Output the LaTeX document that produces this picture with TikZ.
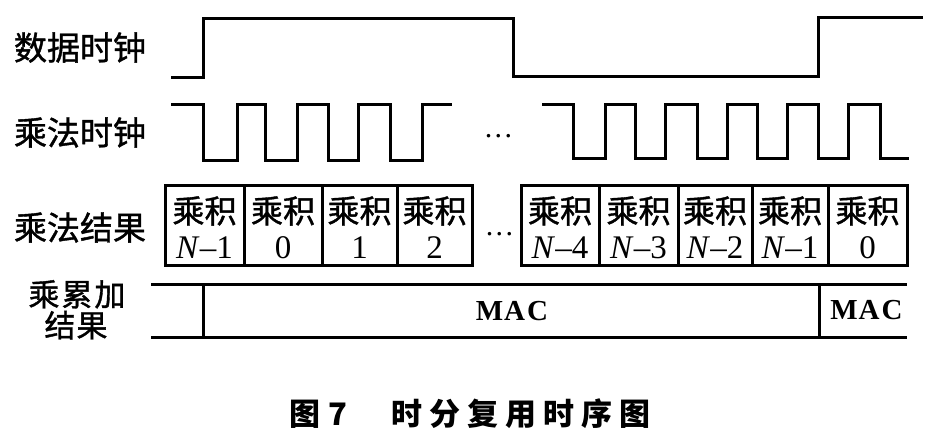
\documentclass[tikz,border=0pt]{standalone}
\usepackage{fontspec}
\setmainfont{Liberation Serif}
\newfontfamily\cjk[FakeBold=1.2]{Noto Sans CJK SC}
\newfontfamily\cjkcap{Noto Sans CJK SC}
\begin{document}
\begin{tikzpicture}[x=1pt,y=-1pt,
  sig/.style={line width=3pt, line join=miter, line cap=rect},
  lab/.style={font=\fontsize{33}{33}\selectfont\cjk, anchor=base, inner sep=0pt},
  cell/.style={draw, line width=3pt, minimum height=80pt, inner sep=0pt},
  ctop/.style={font=\fontsize{32}{32}\selectfont\cjk, anchor=base, inner sep=0pt},
  cbot/.style={font=\fontsize{33}{33}\selectfont, anchor=base, inner sep=0pt},
  mac/.style={font=\fontsize{29}{29}\selectfont\bfseries, anchor=base, inner sep=0pt},
  dots/.style={font=\fontsize{30}{30}\selectfont, anchor=base, inner sep=0pt},
  captext/.style={font=\fontsize{31}{31}\selectfont\cjkcap\bfseries, anchor=base, inner sep=0pt}]
\useasboundingbox (0,0) rectangle (931,440);
\fill[white] (0,0) rectangle (931,440);

% labels
\node[lab] (l1) at (80,60) {数据时钟};
\node[lab] (l2) at (80,145) {乘法时钟};
\node[lab] (l3) at (80,240) {乘法结果};
\node[lab, font=\fontsize{31}{31}\selectfont\cjk] (l4) at (77,306) {乘\kern2pt 累\kern2pt 加};
\node[lab, font=\fontsize{31}{31}\selectfont\cjk] (l5) at (76,337) {结\kern1pt 果};

% data clock
\draw[sig] (172,77) -- (203,77) -- (203,18) -- (513,18) -- (513,76) -- (818,76) -- (818,17) -- (921,17);

% multiply clock
\draw[sig] (172,104) -- (203,104) -- (203,160) -- (237,160) -- (237,104) -- (265,104) -- (265,160)
  -- (297,160) -- (297,104) -- (328,104) -- (328,160) -- (358,160) -- (358,104) -- (390,104)
  -- (390,160) -- (422,160) -- (422,104) -- (450,104);
\draw[sig] (543,104) -- (573,104) -- (573,158) -- (605,158) -- (605,104) -- (635,104) -- (635,158)
  -- (665,158) -- (665,104) -- (697,104) -- (697,158) -- (727,158) -- (727,104) -- (757,104)
  -- (757,158) -- (787,158) -- (787,104) -- (818,104) -- (818,158) -- (848,158) -- (848,104)
  -- (880,104) -- (880,158) -- (907,158);
\node[dots] (d1) at (498.5,137) {.\kern2.5pt.\kern2.5pt.};

% product cells
\foreach \l/\r/\t [count=\i] in {165/244/{\textit{N}–1}, 244/322/0, 322/397/1, 397/472/2,
    521/599/{\textit{N}–4}, 599/678/{\textit{N}–3}, 678/752/{\textit{N}–2},
    752/828/{\textit{N}–1}, 828/907/0} {
  \node[cell, minimum width={\r-\l}] (c\i) at ({(\l+\r)/2},225) {};
  \node[ctop] (c\i t) at ({(\l+\r)/2},223) {乘积};
  \node[cbot] (c\i b) at ({(\l+\r)/2},258) {\t};
}
\node[dots] (d2) at (499.5,235) {.\kern2.5pt.\kern2.5pt.};

% MAC row
\draw[sig] (152,284) -- (905,284);
\draw[sig] (152,337) -- (905,337);
\draw[sig] (203,284) -- (203,337);
\draw[sig] (819,284) -- (819,337);
\node[mac] (m1) at (512,320) {M\kern1pt A\kern2pt C};
\node[mac] (m2) at (866.5,319) {M\kern1pt A\kern2pt C};

% caption
\node[captext] (captn) at (470,425) {图\kern8pt 7\kern44pt 时\kern7pt 分\kern7pt 复\kern7pt 用\kern7pt 时\kern7pt 序\kern7pt 图};
\end{tikzpicture}
\end{document}
